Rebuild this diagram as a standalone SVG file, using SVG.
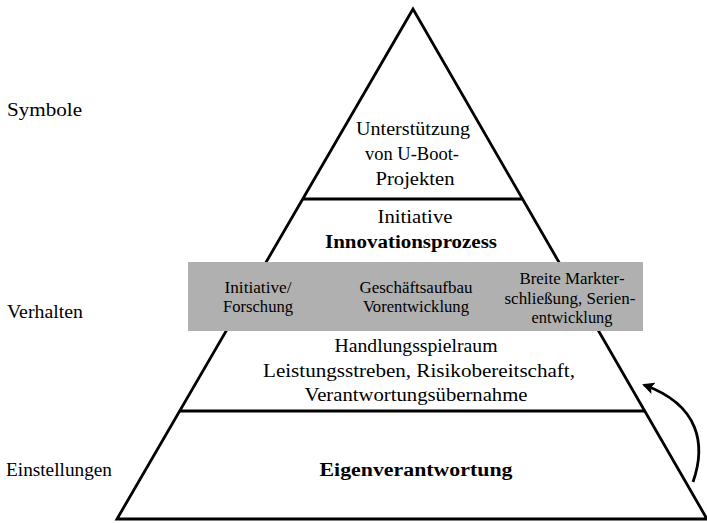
<svg xmlns="http://www.w3.org/2000/svg" width="707" height="523" viewBox="0 0 707 523">
<style>
text{font-family:"Liberation Serif","Times New Roman",serif;fill:#000;}
.lbl{font-size:18.5px;}
.t{font-size:18.5px;text-anchor:middle;}
.b{font-weight:bold;}
.s{font-size:16px;text-anchor:middle;}
.edge{stroke:#000;fill:none;}
</style>
<defs>
<marker id="ah" markerWidth="12" markerHeight="12" refX="10" refY="6" orient="auto" markerUnits="userSpaceOnUse" viewBox="0 0 12 12">
<path d="M0,0 L12,6 L0,12 L2.5,6 Z" fill="#000"/>
</marker>
</defs>
<g id="side-labels">
<text class="lbl" x="7" y="116" textLength="75" lengthAdjust="spacingAndGlyphs">Symbole</text>
<text class="lbl" x="7" y="318" textLength="76" lengthAdjust="spacingAndGlyphs">Verhalten</text>
<text class="lbl" x="6" y="476" textLength="106" lengthAdjust="spacingAndGlyphs">Einstellungen</text>
</g>
<g id="pyramid">
<polygon points="413,9 117,519 707,519" fill="#fff" stroke="#000" stroke-width="2.8" stroke-linejoin="miter"/>
<line x1="303" y1="199" x2="523" y2="199" stroke="#000" stroke-width="3"/>
<line x1="180" y1="411" x2="645" y2="411" stroke="#000" stroke-width="3"/>
</g>
<g id="top">
<text class="t" x="413" y="135" textLength="114" lengthAdjust="spacingAndGlyphs">Unterstützung</text>
<text class="t" x="412" y="160" textLength="94" lengthAdjust="spacingAndGlyphs">von U-Boot-</text>
<text class="t" x="415" y="185" textLength="79" lengthAdjust="spacingAndGlyphs">Projekten</text>
</g>
<g id="innovation">
<text class="t" x="415" y="223" textLength="75" lengthAdjust="spacingAndGlyphs">Initiative</text>
<text class="t b" x="411" y="248" textLength="172" lengthAdjust="spacingAndGlyphs">Innovationsprozess</text>
</g>
<g id="band">
<rect x="188" y="262" width="455" height="69" fill="#b0b0b0"/>
<text class="s" x="258" y="293" textLength="67" lengthAdjust="spacingAndGlyphs">Initiative/</text>
<text class="s" x="258" y="312" textLength="70" lengthAdjust="spacingAndGlyphs">Forschung</text>
<text class="s" x="416" y="293" textLength="113" lengthAdjust="spacingAndGlyphs">Geschäftsaufbau</text>
<text class="s" x="416" y="312" textLength="106" lengthAdjust="spacingAndGlyphs">Vorentwicklung</text>
<text class="s" x="572" y="284" textLength="105" lengthAdjust="spacingAndGlyphs">Breite Markter-</text>
<text class="s" x="570" y="304" textLength="131" lengthAdjust="spacingAndGlyphs">schließung, Serien-</text>
<text class="s" x="572" y="323" textLength="81" lengthAdjust="spacingAndGlyphs">entwicklung</text>
</g>
<g id="behaviour">
<text class="t" x="416" y="352" textLength="163" lengthAdjust="spacingAndGlyphs">Handlungsspielraum</text>
<text class="t" x="419" y="377" textLength="312" lengthAdjust="spacingAndGlyphs">Leistungsstreben, Risikobereitschaft,</text>
<text class="t" x="416" y="401" textLength="223" lengthAdjust="spacingAndGlyphs">Verantwortungsübernahme</text>
</g>
<g id="base">
<text class="t b" x="416" y="476" textLength="193" lengthAdjust="spacingAndGlyphs">Eigenverantwortung</text>
</g>
<g id="connectors">
<path class="edge" d="M693,482 C706,445 700,405 644,385" stroke-width="2.8" marker-end="url(#ah)"/>
</g>
</svg>
